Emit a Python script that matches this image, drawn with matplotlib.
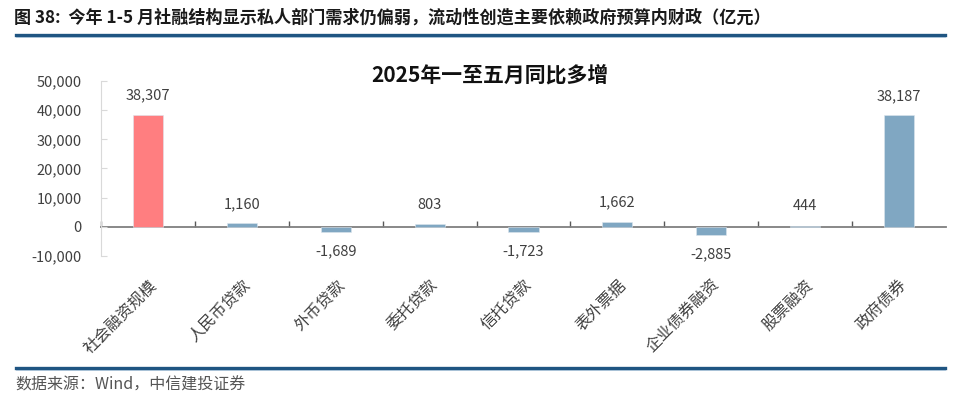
import numpy as np
import matplotlib
matplotlib.use("Agg")
import matplotlib.pyplot as plt
from matplotlib.transforms import ScaledTranslation

plt.rcParams["font.family"] = ["Noto Sans CJK SC", "DejaVu Sans"]

# data (亿元, 2025年1-5月同比多增)
categories = ["社会融资规模", "人民币贷款", "外币贷款", "委托贷款", "信托贷款",
              "表外票据", "企业债券融资", "股票融资", "政府债券"]
values = [38307, 1160, -1689, 803, -1723, 1662, -2885, 444, 38187]
yticks = [-10000, 0, 10000, 20000, 30000, 40000, 50000]

header = "图 38:  今年 1-5 月社融结构显示私人部门需求仍偏弱，流动性创造主要依赖政府预算内财政（亿元）"
chart_title = "2025年一至五月同比多增"
source = "数据来源：Wind，中信建投证券"

PINK = "#FF7E80"
BLUE = "#80A7C2"
TEXT = "#404040"
RULE = "#1F5582"

fig = plt.figure(figsize=(9.6, 4.05), dpi=100)
ax = fig.add_axes([101 / 960, 1 - 256 / 405, 845 / 960, 175 / 405])

x = np.arange(len(categories))
colors = [PINK] + [BLUE] * (len(categories) - 1)
ax.bar(x, values, width=0.32, color=colors, edgecolor="#dce6ee", linewidth=0.4, zorder=2)

for xi, v in zip(x, values):
    off = 14 if v >= 0 else -14
    ax.annotate(f"{v:,}", (xi, v), xytext=(0, off),
                textcoords="offset points", ha="center", va="center",
                fontsize=10.5, color=TEXT)

ax.set_xlim(-0.5, len(categories) - 0.5)
ax.set_ylim(-10000, 50000)
ax.set_yticks(yticks)
ax.set_yticklabels([f"{t:,}" for t in yticks], fontsize=10.5, color=TEXT)
ax.tick_params(axis="y", direction="in", length=4, color="#d9d9d9", pad=14)

for s in ["top", "right", "bottom"]:
    ax.spines[s].set_visible(False)
ax.spines["left"].set_color("#d9d9d9")

# category labels
ax.set_xticks(x)
ax.set_xticklabels(categories, rotation=45, ha="right", va="center",
                   rotation_mode="anchor", fontsize=11.5, color=TEXT)
ax.tick_params(axis="x", length=0, pad=19)
shift = ScaledTranslation(0.06, 0, fig.dpi_scale_trans)
for lab in ax.get_xticklabels():
    lab.set_transform(lab.get_transform() + shift)

# zero line with boundary ticks
zero_frac = (0 - yticks[0]) / (yticks[-1] - yticks[0])
sec = ax.secondary_xaxis(zero_frac)
sec.set_xticks(np.arange(-0.5, len(categories) - 1, 1.0))
sec.set_xticklabels([])
sec.tick_params(direction="in", length=4, color="#595959", width=1)
sec.spines["bottom"].set_color("#7f7f7f")
sec.spines["bottom"].set_linewidth(1.3)
for s in ["top", "left", "right"]:
    sec.spines[s].set_visible(False)

fig.text(490 / 960, 1 - 75 / 405, chart_title, ha="center", va="center",
         fontsize=15, fontweight="bold", color="#111111")

# header, rules and source
fig.text(14 / 960, 1 - 18 / 405, header, ha="left", va="center",
         fontsize=12.3, fontweight="bold", color="#1a1a1a")
for yy in (35, 368):
    fig.add_artist(plt.Line2D([16 / 960, 945 / 960], [1 - yy / 405] * 2,
                              color=RULE, linewidth=2.4))
    fig.add_artist(plt.Line2D([16 / 960, 945 / 960], [1 - (yy + 2) / 405] * 2,
                              color="#9fbbd3", linewidth=0.6))
fig.text(15 / 960, 1 - 385 / 405, source, ha="left", va="center",
         fontsize=11.5, color="#555555", style="italic")

fig.savefig("out.png", dpi=100)
